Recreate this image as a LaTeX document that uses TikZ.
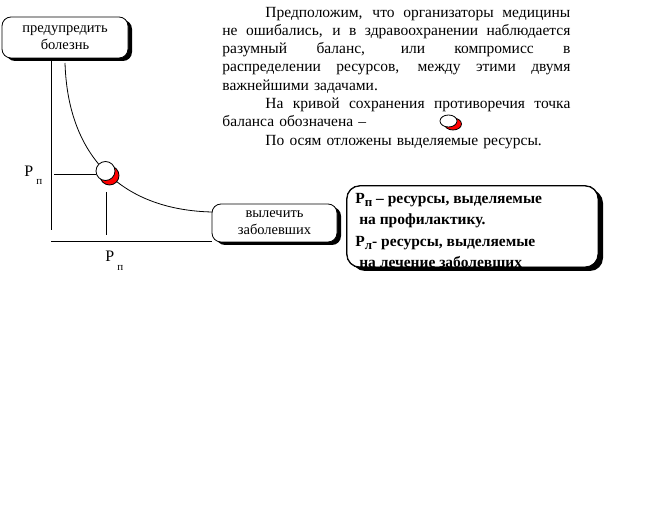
\documentclass[tikz,border=0pt]{standalone}
\usepackage{fontspec}
\setmainfont{Liberation Serif}
\usetikzlibrary{shadows}
\newcommand{\fullline}[2]{\makebox[#1][s]{\spaceskip=.25em plus 1fil\relax #2}}

\begin{document}
\begin{tikzpicture}[x=1pt,y=-1pt, line width=0.8pt,
		task/.style={draw, fill=white, rounded corners=9pt, align=center, inner sep=0pt,
			font=\fontsize{14.5}{17}\selectfont,
			drop shadow={shadow xshift=4pt, shadow yshift=-3pt, opacity=1, fill=black}},
		legendbox/.style={task, rounded corners=13pt,
			drop shadow={shadow xshift=5pt, shadow yshift=-4pt, opacity=1, fill=black}},
		axislab/.style={anchor=base west, inner sep=0pt, font=\fontsize{16}{16}\selectfont}]
		\useasboundingbox (0,0) rectangle (654,510);
		
		% text block
		\node[anchor=north west, inner sep=0pt, text width=348pt, align=left,
		font=\fontsize{15.5}{18.3}\selectfont] (para) at (222,6.5)
		{\hspace*{43pt}\fullline{305pt}{Предположим, что организаторы медицины}\\
			\fullline{348pt}{не ошибались, и в здравоохранении наблюдается}\\
			\fullline{348pt}{разумный баланс, или компромисс в}\\
			\fullline{348pt}{распределении ресурсов, между этими двумя}\\
			важнейшими задачами.\\
			\hspace*{43pt}\fullline{305pt}{На кривой сохранения противоречия точка}\\
			баланса обозначена –\\
			\hspace*{43pt}По осям отложены выделяемые ресурсы.};
		\draw[fill=red] (453,124) ellipse (8.5 and 6);
		\draw[fill=white] (448.5,121) ellipse (8.5 and 6);
		
		% boxes
		\node[task, minimum width=126pt, minimum height=41pt] (goal_p) at (65,37.5) {предупредить\\болезнь};
		\node[task, minimum width=125pt, minimum height=38pt] (goal_l) at (274.5,223) {вылечить\\заболевших};
		
		% axes
		\coordinate (O)     at (51,241);
		\coordinate (y_end) at (51,230);
		\coordinate (c_beg) at (65,63);
		\coordinate (c_end) at (212,212);
		\draw (O |- goal_p.south) -- (y_end);
		\draw (O) -- (O -| goal_l.west);
		\draw (c_beg) .. controls (68,160) and (125,210) .. (c_end);
		
		% balance point
		\coordinate (h_beg) at (54,174);
		\coordinate (v_end) at (106,235);
		\draw (h_beg) -- (96,174);
		\draw (106,192) -- (v_end);
		\draw[fill=red] (109.5,175.5) circle (9.5);
		\node[circle, draw, fill=white, minimum size=19pt, inner sep=0pt] (ball) at (105.5,171) {};
		
		\node[axislab] (lab_p) at (24,177) {Р\hspace{3pt}\raisebox{-8pt}{\fontsize{11}{11}\selectfont п}};
		\node[axislab] (lab_l) at (105,262) {Р\hspace{3pt}\raisebox{-9pt}{\fontsize{11}{11}\selectfont п}};
		
		% legend
		\node[legendbox, minimum width=251pt, minimum height=81pt] (legend) at (472.5,226.5) {};
		\node[anchor=north west, inner sep=0pt, align=left,
		font=\bfseries\fontsize{15.5}{21.5}\selectfont] (leg_txt) at (355,192.5)
		{Р\raisebox{-3pt}{\fontsize{13}{13}\selectfont п} – ресурсы, выделяемые\\
			\ на профилактику.\\
			Р\raisebox{-3pt}{\fontsize{13}{13}\selectfont л}- ресурсы, выделяемые\\
			\ на лечение заболевших};
		\draw[rounded corners=13pt] (legend.south west) rectangle (legend.north east);
	\end{tikzpicture}
\end{document}
